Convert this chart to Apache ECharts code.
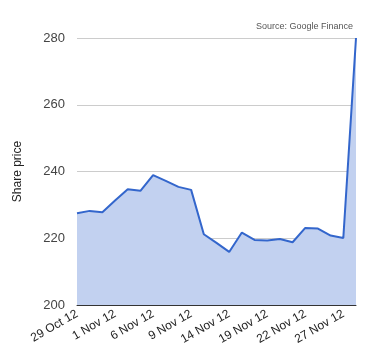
<!DOCTYPE html>
<html><head><meta charset="utf-8">
<script src="https://cdn.jsdelivr.net/npm/echarts@6/dist/echarts.min.js"></script>
<style>html,body{margin:0;padding:0;background:#fff}#c{width:380px;height:360px}</style>
</head><body><div id="c"></div>
<script>
var dates = ['29 Oct 12','30 Oct 12','31 Oct 12','1 Nov 12','2 Nov 12','5 Nov 12','6 Nov 12','7 Nov 12','8 Nov 12','9 Nov 12','12 Nov 12','13 Nov 12','14 Nov 12','15 Nov 12','16 Nov 12','19 Nov 12','20 Nov 12','21 Nov 12','22 Nov 12','23 Nov 12','26 Nov 12','27 Nov 12','28 Nov 12'];
var prices = [227.5,228.2,227.8,231.3,234.7,234.2,238.9,237.2,235.4,234.5,221.2,218.6,215.9,221.7,219.5,219.3,219.8,218.8,223.1,222.9,220.8,220.1,280];
var yTicks = [200,220,240,260,280];
var chart = echarts.init(document.getElementById('c'));
chart.setOption({
  animation:false,
  textStyle:{fontFamily:'Arial, Liberation Sans, sans-serif'},
  title:{text:'Source: Google Finance',right:27,top:22,padding:0,textStyle:{fontSize:9,fontWeight:'normal',color:'#555'}},
  grid:{left:77,right:24,top:38,bottom:55},
  xAxis:{type:'category',data:dates,boundaryGap:false,
    axisLine:{lineStyle:{color:'#333',width:1}},
    axisTick:{show:false},
    axisLabel:{interval:2,rotate:30,fontSize:12,color:'#222',margin:8},
    splitLine:{show:false}},
  yAxis:{type:'value',min:yTicks[0],max:yTicks[yTicks.length-1],interval:20,
    name:'Share price',nameLocation:'middle',nameGap:53,nameTextStyle:{fontSize:12,color:'#222'},
    axisLine:{show:false},axisTick:{show:false},
    axisLabel:{fontSize:13,color:'#444',margin:12},
    splitLine:{lineStyle:{color:'#ccc',width:1}}},
  series:[{type:'line',data:prices,symbol:'none',
    lineStyle:{color:'#3366cc',width:2},
    itemStyle:{color:'#3366cc'},
    areaStyle:{color:'#c2d1f0',opacity:1}}]
});
</script></body></html>
